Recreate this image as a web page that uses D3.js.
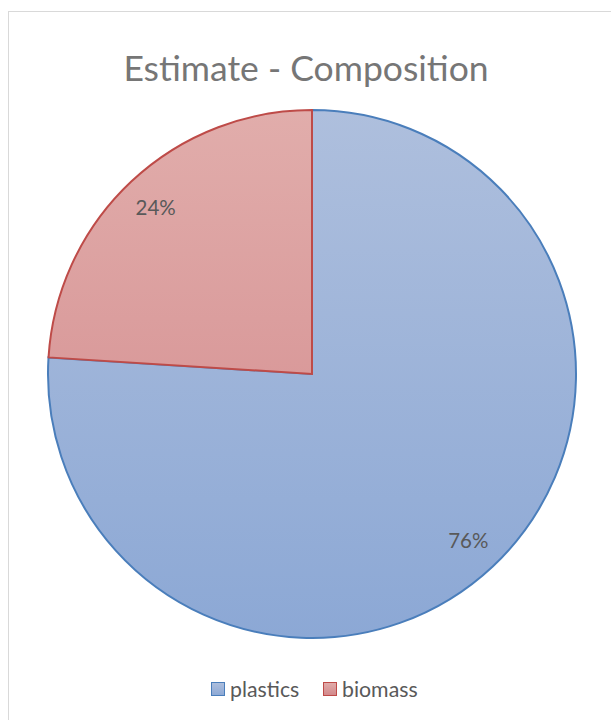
<!DOCTYPE html>
<html>
<head>
<meta charset="utf-8">
<script src="https://cdn.jsdelivr.net/npm/d3@7"></script>
<style>
  html, body { margin: 0; padding: 0; background: #fff; }
  svg { display: block; }
  text { font-family: Lato, "Open Sans", sans-serif; }
</style>
</head>
<body>
<svg id="chart" width="611" height="720"></svg>
<script>
// Composition data
const categories = ["plastics", "biomass"];
const values = [76, 24];
const labels = ["76%", "24%"];

const fills = [
  { top: "#aebfdd", bottom: "#8ca8d5", stroke: "#4a7ebb" },
  { top: "#e1adab", bottom: "#d2878a", stroke: "#be4b48" }
];

const cx = 312, cy = 374, R = 264;

const svg = d3.select("#chart");
const defs = svg.append("defs");

// Chart area frame
svg.append("rect")
  .attr("x", 8.5).attr("y", 11.5)
  .attr("width", 640).attr("height", 760)
  .attr("fill", "#fff")
  .attr("stroke", "#d9d9d9").attr("stroke-width", 1);

// Vertical gradients spanning the pie (in the pie group's local coords)
fills.forEach((f, i) => {
  const g = defs.append("linearGradient")
    .attr("id", "grad" + i)
    .attr("gradientUnits", "userSpaceOnUse")
    .attr("x1", 0).attr("y1", -R)
    .attr("x2", 0).attr("y2", R);
  g.append("stop").attr("offset", "0%").attr("stop-color", f.top);
  g.append("stop").attr("offset", "100%").attr("stop-color", f.bottom);

  const lgGrad = defs.append("linearGradient")
    .attr("id", "legGrad" + i)
    .attr("x1", 0).attr("y1", 0).attr("x2", 0).attr("y2", 1);
  lgGrad.append("stop").attr("offset", "0%").attr("stop-color", f.top);
  lgGrad.append("stop").attr("offset", "100%").attr("stop-color", f.bottom);
});

// Title
svg.append("text")
  .attr("x", 306).attr("y", 81)
  .attr("text-anchor", "middle")
  .attr("font-size", 35.5)
  .attr("fill", "#767676")
  .text("Estimate - Composition");

const pie = d3.pie().sort(null).value(d => d)(values);
const arc = d3.arc().innerRadius(0).outerRadius(R);

const g = svg.append("g").attr("transform", `translate(${cx},${cy})`);

g.selectAll("path.slice")
  .data(pie)
  .join("path")
  .attr("class", "slice")
  .attr("d", arc)
  .attr("fill", (d, i) => `url(#grad${i})`)
  .attr("stroke", (d, i) => fills[i].stroke)
  .attr("stroke-width", 2)
  .attr("stroke-linejoin", "miter");

// Data labels
const labelArc = d3.arc().innerRadius(R * 0.865).outerRadius(R * 0.865);
g.selectAll("text.lbl")
  .data(pie)
  .join("text")
  .attr("class", "lbl")
  .attr("transform", d => {
    const [x, y] = labelArc.centroid(d);
    return `translate(${x},${y})`;
  })
  .attr("text-anchor", "middle")
  .attr("dy", "0.35em")
  .attr("font-size", 20.5)
  .attr("fill", "#595959")
  .text((d, i) => labels[i]);

// Legend
const legendItems = [
  { x: 211, name: categories[0] },
  { x: 323, name: categories[1] }
];
const lg = svg.append("g");
legendItems.forEach((it, i) => {
  lg.append("rect")
    .attr("x", it.x + 0.5).attr("y", 682.5)
    .attr("width", 13).attr("height", 13)
    .attr("fill", `url(#legGrad${i})`)
    .attr("stroke", fills[i].stroke).attr("stroke-width", 1);
  lg.append("text")
    .attr("x", it.x + 19).attr("y", 697)
    .attr("font-size", 21.3)
    .attr("fill", "#595959")
    .text(it.name);
});
</script>
</body>
</html>
